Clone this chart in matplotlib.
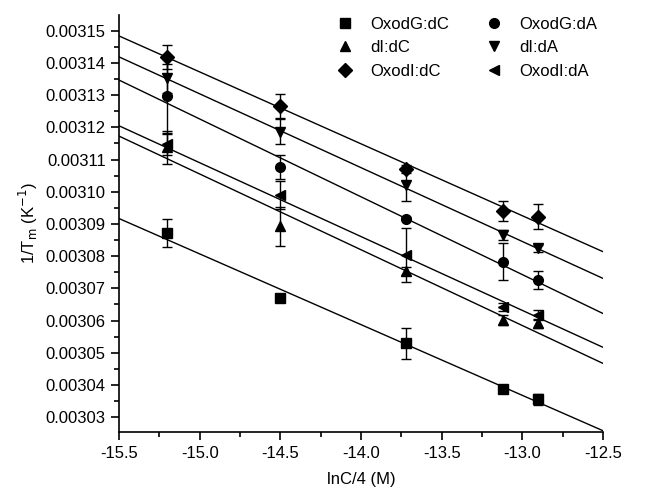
import numpy as np
import matplotlib
matplotlib.use("Agg")
import matplotlib.pyplot as plt
from matplotlib.ticker import MultipleLocator, FormatStrFormatter

plt.rcParams['font.family'] = ['Liberation Sans', 'DejaVu Sans']

# lnC/4 values of the five concentrations
lnc = [-15.2, -14.5, -13.72, -13.12, -12.9]

# 1/Tm data and error bars for each duplex
labels = ['OxodG:dC', 'dI:dC', 'OxodI:dC', 'OxodG:dA', 'dI:dA', 'OxodI:dA']
markers = ['s', '^', 'D', 'o', 'v', '<']

oxodg_dc = [0.0030871, 0.0030671, 0.0030529, 0.0030386, 0.0030355]
oxodg_dc_err = [0.0000044, 0.0000003, 0.0000047, 0.0000008, 0.0000018]
di_dc = [0.0031138, 0.0030893, 0.0030754, 0.0030602, 0.0030591]
di_dc_err = [0.0000052, 0.0000060, 0.0000012, 0.0000015, 0.0000015]
oxodi_dc = [0.0031419, 0.0031266, 0.0031070, 0.0030940, 0.0030922]
oxodi_dc_err = [0.0000037, 0.0000037, 0.0000012, 0.0000030, 0.0000039]
oxodg_da = [0.0031297, 0.0031078, 0.0030917, 0.0030783, 0.0030726]
oxodg_da_err = [0.0000115, 0.0000037, 0.0000006, 0.0000058, 0.0000028]
di_da = [0.0031352, 0.0031186, 0.0031021, 0.0030866, 0.0030824]
di_da_err = [0.0000045, 0.0000039, 0.0000050, 0.0000015, 0.0000010]
oxodi_da = [0.0031148, 0.0030990, 0.0030803, 0.0030643, 0.0030617]
oxodi_da_err = [0.0000033, 0.0000045, 0.0000083, 0.0000012, 0.0000015]

# linear fit lines, value at lnC/4 = -15.5 and -12.5
fit_x = [-15.5, -12.5]
oxodg_dc_fit = [0.0030917, 0.0030258]
di_dc_fit = [0.0031173, 0.0030467]
oxodi_dc_fit = [0.0031484, 0.0030814]
oxodg_da_fit = [0.0031347, 0.0030622]
di_da_fit = [0.0031419, 0.0030731]
oxodi_da_fit = [0.0031205, 0.0030517]

series = [oxodg_dc, di_dc, oxodi_dc, oxodg_da, di_da, oxodi_da]
errs = [oxodg_dc_err, di_dc_err, oxodi_dc_err, oxodg_da_err, di_da_err, oxodi_da_err]
fits = [oxodg_dc_fit, di_dc_fit, oxodi_dc_fit, oxodg_da_fit, di_da_fit, oxodi_da_fit]

fig = plt.figure(figsize=(6.53, 4.92), dpi=100)
ax = fig.add_axes([0.1822, 0.1213, 0.7412, 0.8482])

for i in range(len(series)):
    ax.plot(fit_x, fits[i], '-', color='black', lw=1.0)
    ax.errorbar(lnc, series[i], yerr=errs[i], fmt='none', ecolor='black',
                elinewidth=1.0, capsize=3.5, capthick=1.0)
    ax.plot(lnc, series[i], linestyle='none', marker=markers[i], color='black',
            markersize=7, label=labels[i])

ax.set_xlim(-15.5, -12.5)
ax.set_ylim(0.0030253, 0.0031549)
ax.xaxis.set_major_locator(MultipleLocator(0.5))
ax.xaxis.set_minor_locator(MultipleLocator(0.25))
ax.yaxis.set_major_locator(MultipleLocator(0.00001))
ax.yaxis.set_minor_locator(MultipleLocator(0.000005))
ax.yaxis.set_major_formatter(FormatStrFormatter('%.5f'))
ax.xaxis.set_major_formatter(FormatStrFormatter('%.1f'))

ax.spines['top'].set_visible(False)
ax.spines['right'].set_visible(False)
ax.spines['left'].set_linewidth(1.2)
ax.spines['bottom'].set_linewidth(1.2)
ax.tick_params(which='major', direction='out', length=6, width=1.2, labelsize=12)
ax.tick_params(which='minor', direction='out', length=3.5, width=1.2)

ax.set_xlabel('lnC/4 (M)', fontsize=12, labelpad=8)
ax.set_ylabel('1/T$_\\mathrm{m}$ (K$^{-1}$)', fontsize=12)

ax.legend(loc='upper left', bbox_to_anchor=(335 / 653, 1 - 17 / 492),
          bbox_transform=fig.transFigure, ncol=2, frameon=False,
          fontsize=12, handlelength=1.2, handletextpad=0.9,
          columnspacing=2.1, labelspacing=0.5, borderpad=0, borderaxespad=0)

fig.savefig('out.png', dpi=100)
